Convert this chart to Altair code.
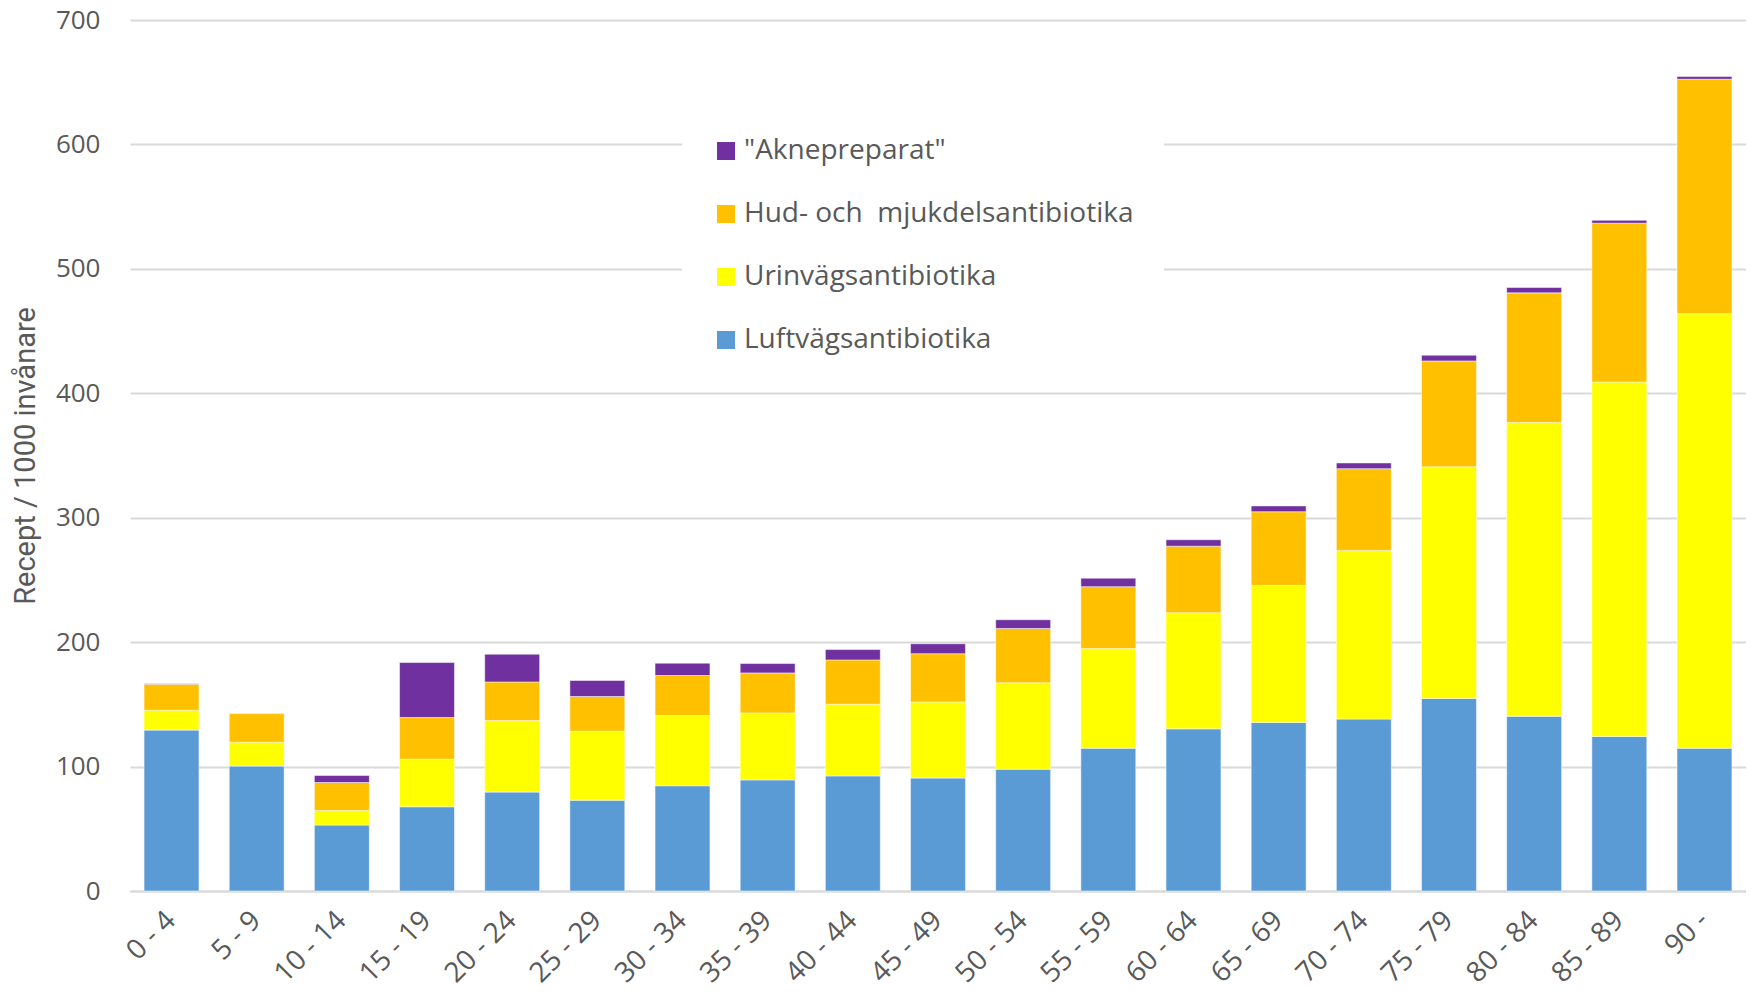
import altair as alt
import pandas as pd

age_groups = ["0 - 4", "5 - 9", "10 - 14", "15 - 19", "20 - 24", "25 - 29", "30 - 34",
              "35 - 39", "40 - 44", "45 - 49", "50 - 54", "55 - 59", "60 - 64", "65 - 69",
              "70 - 74", "75 - 79", "80 - 84", "85 - 89", "90 -"]

series_names = ['"Aknepreparat"', "Hud- och\u00a0 mjukdelsantibiotika",
                "Urinvägsantibiotika", "Luftvägsantibiotika"]
series_colors = ["#7030A0", "#FFC000", "#FFFF00", "#5B9BD5"]

luft = [129.3, 100.4, 53.0, 67.7, 79.5, 73.0, 84.6, 89.3, 92.5, 90.8,
        97.9, 114.8, 130.3, 135.5, 138.2, 154.8, 140.4, 124.2, 114.8]
urin = [16.0, 19.2, 11.7, 38.2, 57.5, 55.4, 56.4, 53.8, 57.6, 61.1,
        69.4, 80.0, 93.4, 110.1, 135.5, 186.1, 236.1, 284.8, 349.2]
hud = [20.9, 23.0, 22.5, 33.5, 31.0, 27.9, 32.2, 32.2, 35.6, 38.8,
       43.7, 49.8, 53.4, 59.2, 65.7, 85.1, 104.2, 127.7, 188.4]
akne = [0.3, 0.3, 5.6, 44.2, 22.3, 12.9, 9.9, 7.5, 8.3, 8.0,
        7.0, 6.8, 5.2, 4.7, 4.6, 4.6, 4.3, 2.3, 2.2]

stack_series = [(series_names[3], luft), (series_names[2], urin),
                (series_names[1], hud), (series_names[0], akne)]

rows = []
for i, g in enumerate(age_groups):
    for k, (name, vals) in enumerate(stack_series):
        rows.append({"age": g, "series": name, "value": vals[i], "stack": k})
df = pd.DataFrame(rows)

TXT = "#595959"
GRID = "#D9D9D9"

chart = alt.Chart(df).mark_bar(stroke="white", strokeWidth=0.5).encode(
    x=alt.X("age:N", sort=age_groups, title=None,
            scale=alt.Scale(paddingInner=0.355, paddingOuter=0.165),
            axis=alt.Axis(labelAngle=-45, labelAlign="right", labelBaseline="middle",
                          labelFontSize=28, labelColor=TXT, labelFont="Open Sans",
                          labelPadding=25, ticks=False, domainColor=GRID, domainWidth=2,
                          grid=False)),
    y=alt.Y("value:Q", stack="zero",
            scale=alt.Scale(domain=[0, 700], nice=False),
            axis=alt.Axis(values=list(range(0, 701, 100)), title="Recept / 1000 invånare",
                          titleFont="Roboto", titleFontSize=29,
                          titleFontWeight="normal", titleColor=TXT,
                          titleX=-105, titleBaseline="middle",
                          labelFont="Open Sans", labelFontSize=26, labelColor=TXT,
                          labelPadding=30, ticks=False, domain=False,
                          gridColor=GRID, gridWidth=2)),
    color=alt.Color("series:N",
                    scale=alt.Scale(domain=series_names, range=series_colors),
                    legend=alt.Legend(title=None, orient="none", legendX=552, legendY=87,
                                      fillColor="white", padding=30,
                                      symbolType="square", symbolSize=324,
                                      symbolStrokeWidth=0,
                                      labelFont="Open Sans", labelFontSize=28,
                                      labelColor=TXT, labelLimit=600,
                                      rowPadding=35, labelOffset=4)),
    order=alt.Order("stack:Q", sort="ascending"),
).properties(
    width=1616, height=871,
    padding={"left": 122, "top": 12, "right": 0, "bottom": 98},
    autosize=alt.AutoSizeParams(type="none"),
).configure_view(stroke=None)

chart.save("out.html", embed_options={"renderer": "svg", "actions": False})
